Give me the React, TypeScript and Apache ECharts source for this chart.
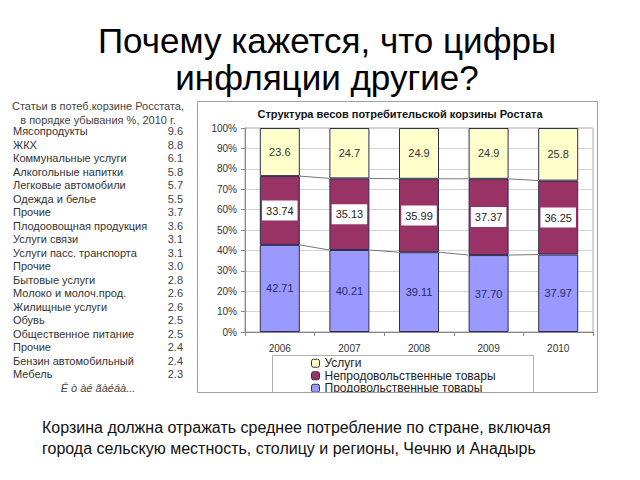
import React, { useEffect, useRef } from "react";
import * as echarts from "echarts";

const YEARS = ["2006", "2007", "2008", "2009", "2010"];
const FOOD = [42.71, 40.21, 39.11, 37.7, 37.97];
const NONFOOD = [33.74, 35.13, 35.99, 37.37, 36.25];
const SERVICES = [23.6, 24.7, 24.9, 24.9, 25.8];
const Y_TICKS = [0, 10, 20, 30, 40, 50, 60, 70, 80, 90, 100];

const LIST_HEADER = ["Статьи в потеб.корзине Росстата,", "в порядке убывания %, 2010 г."];
const LIST_ITEMS = [
  "Мясопродукты",
  "ЖКХ",
  "Коммунальные услуги",
  "Алкогольные напитки",
  "Легковые автомобили",
  "Одежда и белье",
  "Прочие",
  "Плодоовощная продукция",
  "Услуги связи",
  "Услуги пасс. транспорта",
  "Прочие",
  "Бытовые услуги",
  "Молоко и молоч.прод.",
  "Жилищные услуги",
  "Обувь",
  "Общественное питание",
  "Прочие",
  "Бензин автомобильный",
  "Мебель",
];
const LIST_VALUES = ["9.6", "8.8", "6.1", "5.8", "5.7", "5.5", "3.7", "3.6", "3.1", "3.1", "3.0", "2.8", "2.6", "2.6", "2.5", "2.5", "2.4", "2.4", "2.3"];
const LIST_FOOTER = "Ê ò àé ãàéáà...";

const TITLE_LINES = ["Почему кажется, что цифры", "инфляции другие?"];
const CHART_TITLE = "Структура весов потребительской корзины Ростата";
const BOTTOM_LINES = [
  "Корзина должна отражать среднее потребление по стране, включая",
  "города сельскую местность, столицу и регионы, Чечню и Анадырь",
];
const SERIES_NAMES = ["Продовольственные товары", "Непродовольственные товары", "Услуги"];

const FONT = "'Liberation Sans', Arial, sans-serif";

export default function App() {
  const ref = useRef<HTMLDivElement>(null);
  useEffect(() => {
    if (!ref.current) return;
    const chart = echarts.init(ref.current, null, { renderer: "svg" });
    const totals = YEARS.map((_, i) => FOOD[i] + NONFOOD[i] + SERVICES[i]);
    const mk = (arr: number[], digits: number) =>
      arr.map((v, i) => ({ value: (v / totals[i]) * 100, raw: v.toFixed(digits) }));
    const foodPct = FOOD.map((v, i) => (v / totals[i]) * 100);
    const nonPct = NONFOOD.map((v, i) => (v / totals[i]) * 100);
    const BAR_W = 40;

    const graphics: any[] = [];
    TITLE_LINES.forEach((t, i) => {
      graphics.push({
        type: "text",
        x: 327,
        y: 40 + i * 37,
        style: { text: t, font: `35px ${FONT}`, fill: "#000", align: "center", verticalAlign: "middle" },
      });
    });
    LIST_HEADER.forEach((t, i) => {
      graphics.push({
        type: "text",
        x: 98,
        y: 106 + i * 13.5,
        style: { text: t, font: `11px ${FONT}`, fill: "#444", align: "center", verticalAlign: "middle" },
      });
    });
    LIST_ITEMS.forEach((t, i) => {
      graphics.push({
        type: "text",
        x: 13,
        y: 131 + i * 13.5,
        style: { text: t, font: `11px ${FONT}`, fill: "#333", align: "left", verticalAlign: "middle" },
      });
      graphics.push({
        type: "text",
        x: 183,
        y: 131 + i * 13.5,
        style: { text: LIST_VALUES[i], font: `11px ${FONT}`, fill: "#444", align: "right", verticalAlign: "middle" },
      });
    });
    graphics.push({
      type: "text",
      x: 98,
      y: 131 + LIST_ITEMS.length * 13.5,
      style: { text: LIST_FOOTER, font: `italic 11px ${FONT}`, fill: "#444", align: "center", verticalAlign: "middle" },
    });
    graphics.push({
      type: "text",
      x: 400,
      y: 114,
      style: { text: CHART_TITLE, font: `bold 11px ${FONT}`, fill: "#111", align: "center", verticalAlign: "middle" },
    });
    graphics.push({
      type: "rect",
      shape: { x: 272.5, y: 355.5, width: 261, height: 50 },
      style: { fill: "none", stroke: "#b0b0b0", lineWidth: 1 },
      z: 5,
    });
    graphics.push({
      type: "rect",
      shape: { x: 190, y: 393, width: 420, height: 20 },
      style: { fill: "#fff" },
      z: 100,
    });
    graphics.push({
      type: "rect",
      shape: { x: 197.5, y: 101.5, width: 400, height: 291 },
      style: { fill: "none", stroke: "#a0a0a0", lineWidth: 1 },
      z: 101,
    });
    BOTTOM_LINES.forEach((t, i) => {
      graphics.push({
        type: "text",
        x: 42,
        y: 427 + i * 21,
        style: { text: t, font: `16px ${FONT}`, fill: "#111", align: "left", verticalAlign: "middle" },
      });
    });

    const barBase = {
      type: "bar",
      stack: "total",
      barWidth: BAR_W,
      label: { show: true, position: "inside", fontFamily: FONT, fontSize: 11, formatter: (p: any) => p.data.raw },
    };

    chart.setOption({
      animation: false,
      textStyle: { fontFamily: FONT },
      grid: { left: 245, right: 47, top: 128, bottom: 148, show: true, borderColor: "#a8a8a8", borderWidth: 1 },
      legend: {
        orient: "vertical",
        left: 311,
        top: 357,
        padding: 0,
        itemWidth: 8,
        itemHeight: 8,
        itemGap: 0,
        data: [SERIES_NAMES[2], SERIES_NAMES[1], SERIES_NAMES[0]],
        textStyle: { fontSize: 12, lineHeight: 12.5, color: "#222" },
        itemStyle: { borderColor: "#333", borderWidth: 1 },
      },
      xAxis: {
        type: "category",
        data: YEARS,
        axisLine: { lineStyle: { color: "#888" } },
        axisTick: { show: true, length: 4, lineStyle: { color: "#888" } },
        axisLabel: { color: "#333", fontSize: 10, margin: 11 },
      },
      yAxis: {
        type: "value",
        min: Y_TICKS[0],
        max: Y_TICKS[Y_TICKS.length - 1],
        interval: Y_TICKS[1] - Y_TICKS[0],
        axisLine: { show: true, lineStyle: { color: "#888" } },
        axisTick: { show: true, length: 4, lineStyle: { color: "#888" } },
        axisLabel: { color: "#333", fontSize: 10, margin: 8, formatter: "{value}%" },
        splitLine: { lineStyle: { color: "#d4d4d4" } },
      },
      graphic: graphics,
      series: [
        {
          ...barBase,
          name: SERIES_NAMES[0],
          data: mk(FOOD, 2),
          itemStyle: { color: "#9999ff", borderColor: "#2e2e4e", borderWidth: 1 },
          label: { ...barBase.label, color: "#2a2a6a" },
        },
        {
          ...barBase,
          name: SERIES_NAMES[1],
          data: mk(NONFOOD, 2),
          itemStyle: { color: "#993366", borderColor: "#2e2e4e", borderWidth: 1 },
          label: { ...barBase.label, color: "#222", backgroundColor: "#fff", padding: [5, 4, 4, 4] },
        },
        {
          ...barBase,
          name: SERIES_NAMES[2],
          data: mk(SERVICES, 1),
          itemStyle: { color: "#ffffcc", borderColor: "#2e2e4e", borderWidth: 1 },
          label: { ...barBase.label, color: "#333" },
        },
        {
          type: "custom",
          name: "series-lines",
          silent: true,
          z: 1,
          data: YEARS.map((y) => [y, 0]),
          renderItem: (params: any, api: any) => {
            const i = params.dataIndex;
            if (i >= YEARS.length - 1) return null;
            const levels = [
              [foodPct[i], foodPct[i + 1]],
              [foodPct[i] + nonPct[i], foodPct[i + 1] + nonPct[i + 1]],
            ];
            return {
              type: "group",
              children: levels.map(([a, b]) => {
                const p1 = api.coord([i, a]);
                const p2 = api.coord([i + 1, b]);
                return {
                  type: "line",
                  shape: { x1: p1[0] + BAR_W / 2, y1: p1[1], x2: p2[0] - BAR_W / 2, y2: p2[1] },
                  style: { stroke: "#777", lineWidth: 1 },
                };
              }),
            };
          },
        },
      ],
    });
    return () => chart.dispose();
  }, []);
  return <div ref={ref} style={{ position: "fixed", left: 0, top: 0, width: 640, height: 480, background: "#fff" }} />;
}
